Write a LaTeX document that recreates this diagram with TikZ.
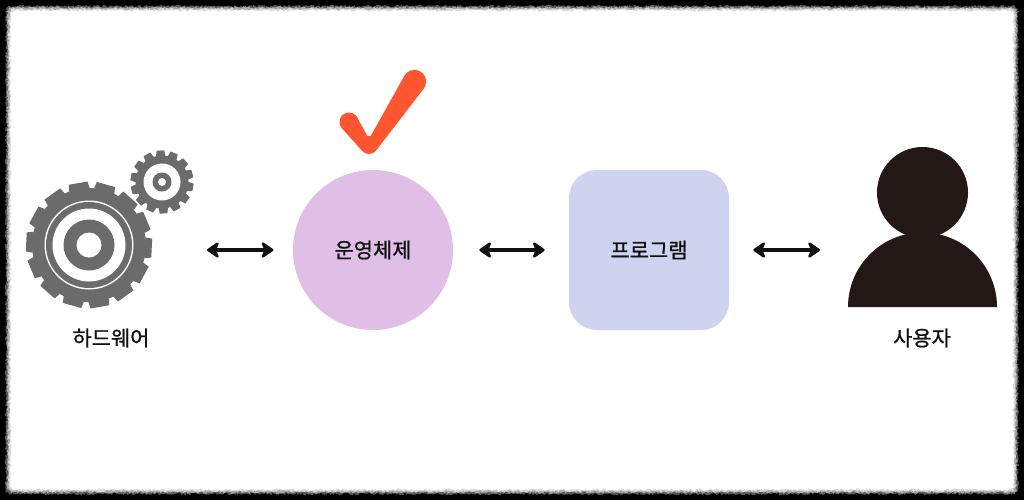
\documentclass[tikz,border=0pt]{standalone}
\usepackage{fontspec}
\setmainfont[RawFeature={embolden=0.9}]{Noto Sans CJK KR}
\usetikzlibrary{arrows.meta,decorations.pathmorphing}
\definecolor{gearc}{HTML}{6B6B6B}
\definecolor{osc}{HTML}{E0BFE6}
\definecolor{progc}{HTML}{CED3F0}
\definecolor{userc}{HTML}{231815}
\definecolor{checkc}{HTML}{FF5630}
\definecolor{inkc}{HTML}{111111}
\tikzset{
  rough/.style={decorate,decoration={random steps,segment length=0.9pt,amplitude=0.9pt}},
  lab/.style={font=\fontsize{15.7pt}{17pt}\selectfont,text=inkc,inner sep=0pt},
  twoway/.style={draw=inkc,line width=2.8pt,
    {Stealth[round,length=10.5pt,width=14.5pt,inset=3pt,line width=1.8pt]}-{Stealth[round,length=10.5pt,width=14.5pt,inset=3pt,line width=1.8pt]}},
  hidden/.style={inner sep=0pt,outer sep=0pt}
}
\newcommand{\mygear}[7]{% cx cy rbody rtip halfbase halftip start
  \fill[gearc] (#1,#2) circle[radius=#3];
  \foreach \k in {0,...,13}{
    \fill[gearc,shift={(#1,#2)},rotate=-#7-\k*25.714]
      (#3-1,-#5) -- (#4,-#6) -- (#4,#6) -- (#3-1,#5) -- cycle;
  }
}
\newcommand{\myframe}[2]{% inset colour
  \fill[#2,rough] (#1+3,#1) -- (1024-#1-3,#1) -- (1024-#1,#1+3) -- (1024-#1,500-#1-3) -- (1024-#1-3,500-#1) -- (#1+3,500-#1) -- (#1,500-#1-3) -- (#1,#1+3) -- cycle;
}
\begin{document}
\begin{tikzpicture}[x=0.75pt,y=-0.75pt]
\useasboundingbox (0,0) rectangle (1024,500);
\fill[black] (0,0) rectangle (1024,500);
\myframe{6}{black!65}
\myframe{7.5}{black!35}
\myframe{9}{black!15}
\myframe{10.5}{white}
% big gear
\mygear{89}{245}{57}{62.8}{10.5}{9.5}{80}
\fill[white] (89,245) circle[radius=44.5];
\fill[gearc] (89,245) circle[radius=43];
\fill[white] (89,245) circle[radius=36.5];
\fill[gearc] (89,245) circle[radius=25.5];
\fill[white] (89,245) circle[radius=12.5];
% small gear
\fill[white] (162,182) circle[radius=33];
\mygear{162}{182}{26.5}{31.5}{4.8}{3.8}{10}
\fill[white] (162,182) circle[radius=18.5];
\fill[gearc] (162,182) circle[radius=9.5];
\fill[white] (162,182) circle[radius=4];
\node[hidden,minimum width=114pt,minimum height=15pt] (hw) at (105,250) {};
\node[lab] (hwl) at (111,338) {하드웨어};
% check
\fill[checkc] (356.2,115.8) -- (369,139) -- (405,74.7) -- (424,88.3) -- (376.3,150.2) -- (362.2,150.9) -- (341.8,128.2) -- cycle;
\fill[checkc] (414.5,81.5) circle[radius=11.7] (369,145) circle[radius=9] (349,122) circle[radius=9.5];
% operating system
\node[circle,fill=osc,minimum size=120pt,inner sep=0pt,lab] (os) at (373,250) {운영체제};
% program
\node[rectangle,rounded corners=21pt,fill=progc,minimum size=120pt,inner sep=0pt,lab] (prog) at (649,250) {프로그램};
% user
\fill[userc] (848,307) arc[radius=74.5,start angle=180,end angle=360] -- cycle;
\fill[userc] (922.5,192.5) circle[radius=45.5];
\node[hidden,minimum width=111.75pt,minimum height=15pt] (user) at (922.5,250) {};
\node[lab] (userl) at (922,338) {사용자};
% connectors
\draw[twoway,shorten <=19.5pt,shorten >=14.5pt] (hw.east) -- (os.west);
\draw[twoway,shorten <=19.5pt,shorten >=18pt] (os.east) -- (prog.west);
\draw[twoway,shorten <=18pt,shorten >=21pt] (prog.east) -- (user.west);
\end{tikzpicture}
\end{document}
